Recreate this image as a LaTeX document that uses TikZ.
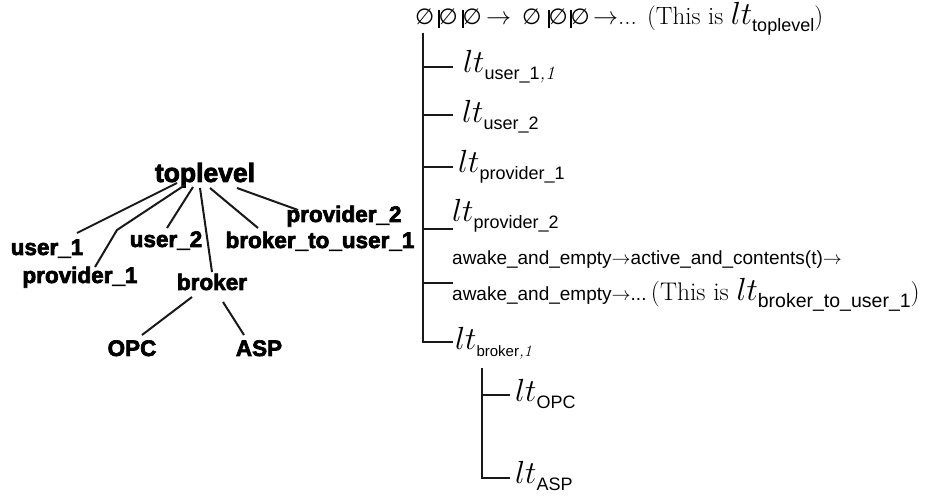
\RequirePackage{fix-cm}
\documentclass[tikz,border=0pt]{standalone}
\usepackage{fontspec}
\usetikzlibrary{calc}
\newfontfamily\hv{Liberation Sans}
\newfontfamily\hvb[FakeBold=3]{Liberation Sans Bold}
\newfontfamily\djvs{DejaVu Sans}
\newcommand{\fs}[1]{\fontsize{#1}{#1}\selectfont}
\newcommand{\LT}[2][18]{{\fs{32}$lt$}\raisebox{-7pt}{\fs{#1}\hv #2}}
\newcommand{\itone}[1][19]{{\fs{#1}\rmfamily\itshape,1}}
\newcommand{\Emp}{{\fs{22}\djvs ∅}}
\newcommand{\bemp}{\rule[-3pt]{2pt}{18pt}\kern-1.5pt\Emp}
\begin{document}
\begin{tikzpicture}[x=1pt,y=-1pt,
  lbl/.style={font={\hvb\fs{22.5}}, inner sep=0pt, anchor=base},
  rt/.style={inner sep=0pt, anchor=base west},
  ln/.style={line width=2pt, black!90},
  vl/.style={line width=2.5pt, black!90}]
\useasboundingbox (0,0) rectangle (930,502);
% left tree
\node[lbl,font={\hvb\fs{26.5}}] (top) at (205,182) {toplevel};
\node[lbl] (u1) at (47,255) {user\_1};
\node[lbl] (p1) at (80,283) {provider\_1};
\node[lbl] (u2) at (166,247) {user\_2};
\node[lbl] (bk) at (212,290) {broker};
\node[lbl] (b2u) at (320,248) {broker\_to\_user\_1};
\node[lbl] (p2) at (344,222) {provider\_2};
\node[lbl] (opc) at (132,356) {OPC};
\node[lbl] (asp) at (259,356) {ASP};
\coordinate (p1bend) at (117,230);
\draw[ln] ($(top.base)+(-28,1)$) -- ($(u1.base)+(30,-22)$);
\draw[ln] ($(top.base)+(-20,3)$) -- (p1bend) -- ($(p1.base)+(15,-16)$);
\draw[ln] ($(top.base)+(-12,5)$) -- ($(u2.base)+(1,-19)$);
\draw[ln] ($(top.base)+(-5,6)$) -- ($(bk.base)+(0,-18)$);
\draw[ln] ($(top.base)+(5,6)$) -- ($(b2u.base)+(-62,-20)$);
\draw[ln] ($(top.base)+(32,6)$) -- ($(p2.base)+(-46,-12)$);
\draw[ln] ($(bk.base)+(-20,7)$) -- ($(opc.base)+(10,-21)$);
\draw[ln] ($(bk.base)+(11,12)$) -- ($(asp.base)+(-15,-21)$);
% right tree
\node[rt] (tl) at (415,25) {\fs{25}\makebox[23pt][l]{\Emp}\makebox[24pt][l]{\bemp}\makebox[24pt][l]{\bemp}\makebox[36pt][l]{$\rightarrow$}\makebox[26pt][l]{\Emp}\makebox[22pt][l]{\bemp}\makebox[23pt][l]{\bemp}$\rightarrow$... (This is \LT{toplevel}{\fs{25})}};
\node[rt] (L1) at (463,73) {\LT{user\_1\itone}};
\node[rt] (L2) at (462,123) {\LT{user\_2}};
\node[rt] (L3) at (458,173) {\LT{provider\_1}};
\node[rt] (L4) at (452,222) {\LT{provider\_2}};
\node[rt] (A1) at (452,265) {\fs{19}\hv awake\_and\_empty$\rightarrow$active\_and\_contents(t)$\rightarrow$};
\node[rt] (A2) at (452,301) {{\fs{19}\hv awake\_and\_empty$\rightarrow$...} {\fs{25.5}(This is }\LT[19.5]{broker\_to\_user\_1}{\fs{25.5})}};
\node[rt] (Lb) at (455,350) {\LT[15]{broker\itone[16]}};
\node[rt] (LO) at (515,402) {\LT{OPC}};
\node[rt] (LA) at (515,484) {\LT{ASP}};
\coordinate (vtop) at ($(tl.base west)+(8,8)$);
\coordinate (b1) at ($(L1.base west)+(-10,-6)$);
\coordinate (b2) at ($(L2.base west)+(-9,-8)$);
\coordinate (b3) at ($(L3.base west)+(-5,-6)$);
\coordinate (b4) at ($(L4.base west)+(1,7)$);
\coordinate (b5) at ($(A2.base west)+(1,-18)$);
\coordinate (b6) at ($(Lb.base west)+(-2,-8)$);
\draw[vl] (vtop) |- (b6);
\foreach \b in {b1,b2,b3,b4,b5} \draw[ln] (\b) -- (\b -| vtop);
\coordinate (stop) at ($(Lb.base west)+(27,18)$);
\coordinate (bo) at ($(LO.base west)+(-5,-7)$);
\coordinate (ba) at ($(LA.base west)+(-5,-6)$);
\draw[vl] (stop) |- (ba);
\draw[ln] (bo) -- (bo -| stop);
\end{tikzpicture}
\end{document}
